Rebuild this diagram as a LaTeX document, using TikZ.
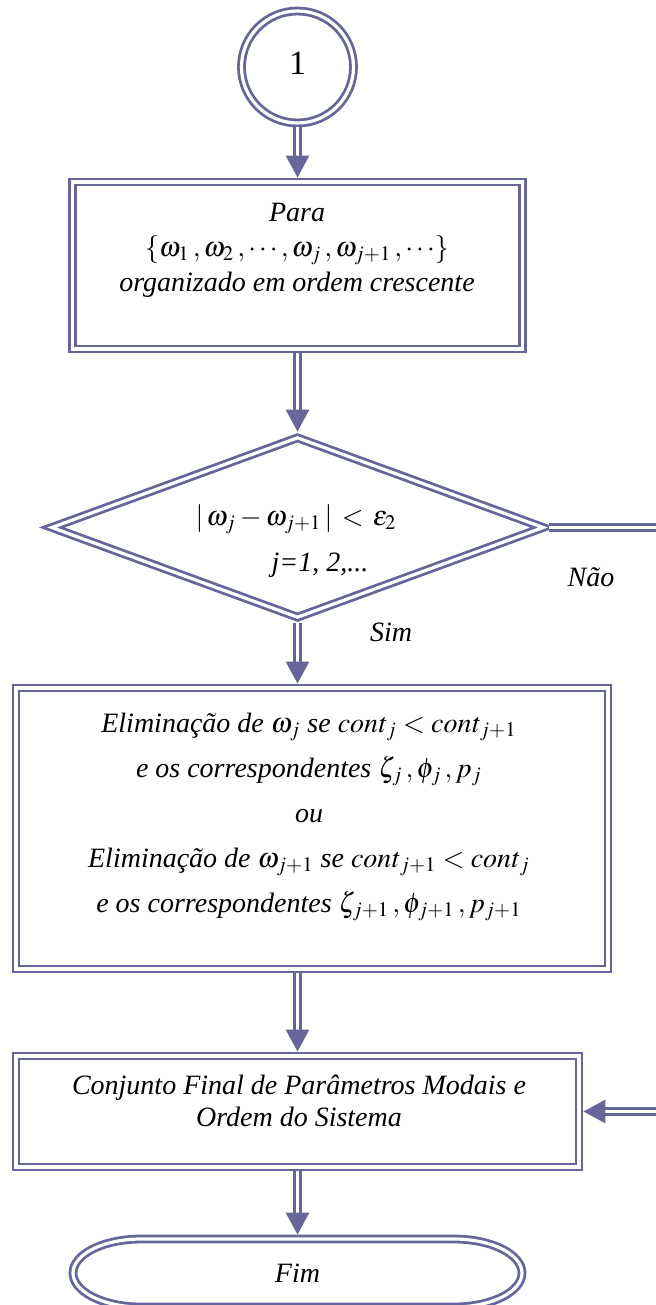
\documentclass[tikz,border=0pt]{standalone}
\usepackage{mathptmx}
\usepackage{fontspec}
\setmainfont{Liberation Serif}
\usetikzlibrary{positioning,arrows.meta,shapes.geometric}
\definecolor{flowblue}{RGB}{102,102,153}
\tikzset{
  dblframe/.style={draw=flowblue, line width=1.4pt, double=white,
                   double distance=1.6pt, inner sep=0pt, outer sep=2.2pt},
  flow/.style={draw=flowblue, line width=1.4pt, double=white,
               double distance=1.3pt, -{Triangle[width=11.5pt,length=11pt]}},
  txt/.style={font=\fontsize{14}{17}\selectfont\itshape, align=center, inner sep=0pt},
}

\begin{document}
\begin{tikzpicture}[x=0.5pt,y=-0.5pt]
  \fill[white] (0,0) rectangle (655,1305);
  \useasboundingbox (0,0) rectangle (655,1305);

  % shapes
  \node[dblframe, circle, minimum size=56pt, font=\fontsize{17}{20}\selectfont]
    (start) at (297.5,67) {\raisebox{4pt}{1}};
  \node[dblframe, minimum width=225pt, minimum height=83.5pt] (para) at (297.5,265.5) {};
  \node[dblframe, diamond, minimum width=247.5pt, minimum height=91.5pt] (test) at (297.5,527.5) {};
  \node[dblframe, minimum width=296pt, minimum height=140.5pt] (elim) at (312,828.5) {};
  \node[dblframe, minimum width=281.5pt, minimum height=55.5pt] (final) at (297.5,1111.5) {};
  \node[txt, minimum width=224.5pt, minimum height=34pt, outer sep=0pt] (fim) at (297.5,1273) {Fim};
  \draw[dblframe] ([xshift=34pt]fim.north west) -- ([xshift=-34pt]fim.north east)
    arc[start angle=90, end angle=-90, x radius=34pt, y radius=17pt]
    -- ([xshift=34pt]fim.south west)
    arc[start angle=270, end angle=90, x radius=34pt, y radius=17pt] -- cycle;

  % texts
  \node[txt, font=\fontsize{14}{17.5}\selectfont\itshape] (paratxt) at (297,250)
    {Para\\$\{\omega_1\,,\omega_2\,,\cdots,\omega_j\,,\omega_{j+1}\,,\cdots\}$\\organizado em ordem crescente};
  \node[txt] (testtxt) at (296,541)
    {$|\,\omega_j-\omega_{j+1}\,|\,<\,\varepsilon_2$\\[6pt]\hspace*{24pt}j=1, 2,...};
  \node[txt, font=\fontsize{14}{22.5}\selectfont\itshape] (elimtxt) at (309,817)
    {Elimina\c{c}\~ao de $\omega_j$ se $\mathit{cont}_j<\mathit{cont}_{j+1}$\\
     e os correspondentes $\zeta_j\,,\phi_j\,,p_j$\\
     ou\\
     Elimina\c{c}\~ao de $\omega_{j+1}$ se $\mathit{cont}_{j+1}<\mathit{cont}_j$\\
     e os correspondentes $\zeta_{j+1}\,,\phi_{j+1}\,,p_{j+1}$};
  \node[txt, font=\fontsize{14}{16}\selectfont\itshape] (finaltxt) at (299,1101)
    {Conjunto Final de Par\^ametros Modais e\\Ordem do Sistema};
  \node[txt] (nao) at (591,577) {N\~ao};
  \node[txt] (sim) at (391,632) {Sim};

  % connectors
  \coordinate (bend) at (700,527.5);
  \draw[flow] (start.south) -- (para.north);
  \draw[flow] (para.south) -- (test.north);
  \draw[flow] (test.south) -- (test.south |- elim.north);
  \draw[flow] (elim.south -| final.north) -- (final.north);
  \draw[flow] (final.south) -- ([yshift=2.2pt]fim.north);
  \draw[flow] (test.east) -- (bend) |- (final.east);
\end{tikzpicture}
\end{document}
